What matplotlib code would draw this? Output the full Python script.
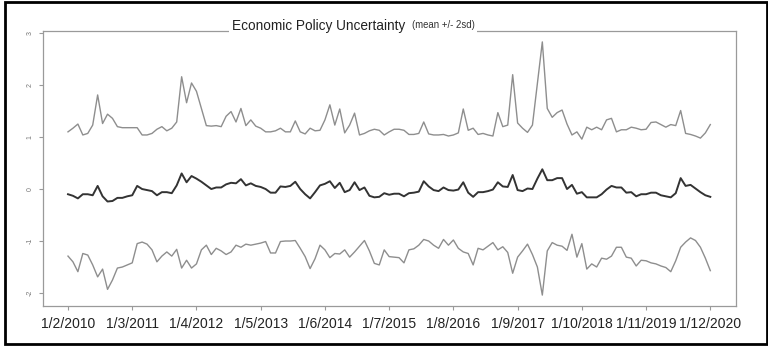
import numpy as np
import pandas as pd
import matplotlib
matplotlib.use('Agg')
import matplotlib.pyplot as plt
from matplotlib.patches import Rectangle

plt.rcParams['font.family'] = ['Liberation Sans', 'DejaVu Sans']

# monthly index, Feb 2010 - Dec 2020
meses = pd.date_range('2010-02-01', periods=131, freq='MS')

upper = [1.10, 1.17, 1.25, 1.04, 1.07, 1.23, 1.81, 1.26, 1.44, 1.36, 1.20, 1.18, 1.18,
         1.18, 1.18, 1.04, 1.04, 1.07, 1.15, 1.20, 1.12, 1.17, 1.29, 2.16, 1.66, 2.04,
         1.88, 1.55, 1.22, 1.21, 1.22, 1.20, 1.40, 1.49, 1.29, 1.55, 1.22, 1.33, 1.21,
         1.17, 1.10, 1.10, 1.12, 1.17, 1.10, 1.10, 1.31, 1.10, 1.06, 1.17, 1.12,
         1.13, 1.33, 1.62, 1.23, 1.54, 1.08, 1.23, 1.46, 1.04, 1.07, 1.12, 1.15, 1.13,
         1.04, 1.10, 1.15, 1.15, 1.13, 1.05, 1.05, 1.07, 1.29, 1.06, 1.04, 1.04, 1.05, 1.02,
         1.04, 1.08, 1.54, 1.13, 1.17, 1.05, 1.07, 1.04, 1.02, 1.47, 1.20, 1.23, 2.20,
         1.27, 1.17, 1.09, 1.23, 2.03, 2.83, 1.55, 1.38, 1.47, 1.52, 1.25, 1.04, 1.10,
         0.96, 1.19, 1.14, 1.19, 1.14, 1.33, 1.36, 1.10, 1.14, 1.14, 1.19, 1.17, 1.14,
         1.15, 1.28, 1.29, 1.24, 1.19, 1.24, 1.22, 1.51, 1.07, 1.05, 1.02, 0.98, 1.08, 1.24]

media = [-0.10, -0.13, -0.18, -0.10, -0.10, -0.12, 0.06, -0.14, -0.24, -0.23, -0.17, -0.17, -0.14,
         -0.12, 0.06, 0.00, -0.02, -0.04, -0.12, -0.06, -0.06, -0.08, 0.07, 0.30, 0.13, 0.25,
         0.20, 0.14, 0.07, 0.00, 0.03, 0.03, 0.09, 0.12, 0.11, 0.19, 0.07, 0.11, 0.06,
         0.04, 0.00, -0.07, -0.07, 0.05, 0.04, 0.06, 0.14, 0.00, -0.10, -0.18, -0.06,
         0.07, 0.10, 0.15, 0.02, 0.12, -0.06, -0.02, 0.13, -0.02, 0.03, -0.13, -0.16, -0.15,
         -0.08, -0.11, -0.09, -0.09, -0.14, -0.08, -0.07, -0.05, 0.15, 0.05, -0.02, -0.04, 0.03, -0.02,
         -0.03, -0.01, 0.13, -0.07, -0.15, -0.06, -0.06, -0.04, -0.01, 0.13, 0.05, 0.04, 0.27,
         -0.02, -0.04, 0.01, 0.00, 0.20, 0.38, 0.17, 0.17, 0.21, 0.21, 0.00, 0.08, -0.09,
         -0.06, -0.16, -0.16, -0.16, -0.10, -0.01, 0.06, 0.03, 0.03, -0.07, -0.06, -0.14, -0.10,
         -0.10, -0.07, -0.07, -0.12, -0.14, -0.16, -0.08, 0.21, 0.06, 0.08, 0.01, -0.06, -0.12, -0.15]

lower = [-1.29, -1.40, -1.59, -1.24, -1.27, -1.46, -1.69, -1.54, -1.93, -1.75, -1.52, -1.50, -1.46,
         -1.42, -1.05, -1.02, -1.06, -1.17, -1.40, -1.29, -1.21, -1.29, -1.16, -1.52, -1.37, -1.52,
         -1.44, -1.17, -1.08, -1.26, -1.14, -1.19, -1.26, -1.21, -1.08, -1.12, -1.06, -1.08, -1.06,
         -1.04, -1.01, -1.23, -1.23, -1.01, -1.00, -1.00, -0.99, -1.14, -1.30, -1.53, -1.34,
         -1.08, -1.17, -1.32, -1.24, -1.25, -1.17, -1.31, -1.21, -1.10, -0.99, -1.19, -1.43, -1.46,
         -1.17, -1.30, -1.31, -1.32, -1.42, -1.17, -1.15, -1.08, -0.97, -1.00, -1.08, -1.14, -0.97,
         -1.08, -0.98,
         -1.14, -1.21, -1.24, -1.46, -1.14, -1.17, -1.10, -1.03, -1.17, -1.11, -1.22, -1.62,
         -1.31, -1.19, -1.06, -1.26, -1.50, -2.04, -1.19, -1.03, -1.08, -1.10, -1.18, -0.87, -1.31,
         -1.05, -1.54, -1.44, -1.50, -1.33, -1.35, -1.29, -1.12, -1.12, -1.31, -1.33, -1.48, -1.37,
         -1.38, -1.42, -1.44, -1.48, -1.51, -1.59, -1.38, -1.12, -1.02, -0.94, -0.99, -1.12, -1.33, -1.57]

x = np.arange(len(meses))
ticks_x = x[::13]
etiquetas_x = ['%d/%d/%d' % (d.day, d.month, d.year) for d in meses[::13]]
ticks_y = [-2, -1, 0, 1, 2, 3]

fig = plt.figure(figsize=(7.68, 3.46), dpi=100)
ax = fig.add_axes([43/768, 40/346, 693/768, 275/346])

ax.plot(x, upper, color='#8e8e8e', lw=1.0)
ax.plot(x, lower, color='#8e8e8e', lw=1.0)
ax.plot(x, media, color='#333333', lw=1.4)

ax.set_xlim(-5.06, 135.2)
ax.set_ylim(-2.25, 3.04)

for s in ax.spines.values():
    s.set_color('#9a9a9a')
    s.set_linewidth(0.9)

ax.set_xticks(ticks_x)
ax.set_xticklabels(etiquetas_x, fontsize=10, color='#222222')
ax.tick_params(axis='x', length=3, color='#9a9a9a', pad=5)
ax.set_yticks(ticks_y)
ax.set_yticklabels([str(t) for t in ticks_y], fontsize=5, color='#777777', rotation=90, va='center')
ax.tick_params(axis='y', length=3, color='#9a9a9a', pad=4)

# blank out the top frame under the title
fig.patches.append(Rectangle((229/768, 1 - 34/346), 248/768, 14/346, transform=fig.transFigure,
                             facecolor='white', edgecolor='none'))
fig.text(232/768, 1 - 26/346, 'Economic Policy Uncertainty',
         fontsize=9.8, color='#222222', ha='left', va='center')
fig.text(412/768, 1 - 25/346, '(mean +/- 2sd)',
         fontsize=6.9, color='#333333', ha='left', va='center')

# black border round the whole picture
fig.patches.append(Rectangle((4.5/768, 2/346), 762/768, 342/346, transform=fig.transFigure,
                             fill=False, edgecolor='black', linewidth=2.0))

fig.savefig('out.png', dpi=100)
